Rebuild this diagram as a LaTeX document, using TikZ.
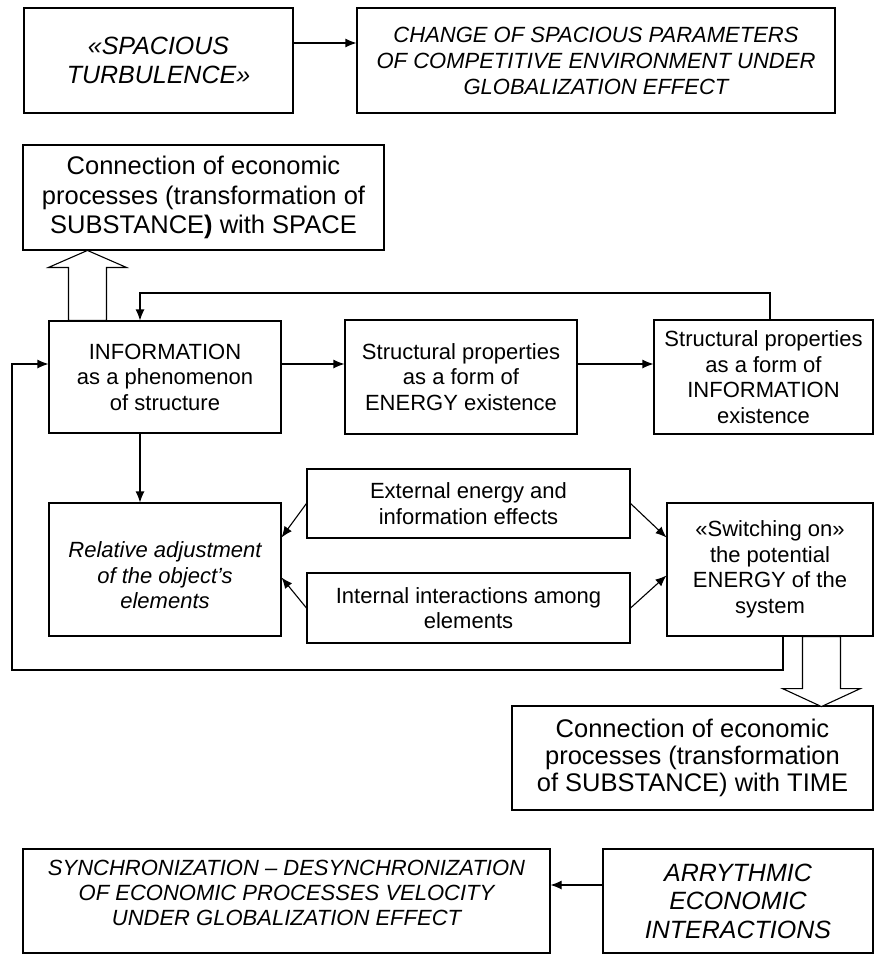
\documentclass[tikz,border=0pt]{standalone}
\usepackage{fontspec}
\setmainfont{Liberation Sans}
\usetikzlibrary{arrows.meta}
\begin{document}
\begin{tikzpicture}[x=1pt,y=-1pt,
  box/.style={draw, line width=1.1pt, align=center, inner sep=0pt, anchor=center},
  txt/.style={font=\fontsize{22}{25.5}\selectfont},
  big/.style={font=\fontsize{25.5}{29.5}\selectfont},
  bigtight/.style={font=\fontsize{25.5}{27}\selectfont},
  ital/.style={font=\fontsize{22}{26}\selectfont\itshape},
  italbig/.style={font=\fontsize{25}{28.5}\selectfont\itshape},
  plain/.style={align=center, inner sep=0pt, anchor=center},
  arr/.style={line width=1.1pt, -{Latex[length=11pt,width=9pt]}},
  hollow/.style={draw, fill=white, line width=1.1pt, line join=miter}]
\useasboundingbox (0,0) rectangle (876,958);

% top row: spatial turbulence
\node[box,italbig,minimum width=269pt,minimum height=105pt] (A) at (158.5,60.5)
  {«SPACIOUS\\TURBULENCE»};
\node[box,ital,minimum width=478pt,minimum height=105pt] (B) at (596,60.5)
  {CHANGE OF SPACIOUS PARAMETERS\\OF COMPETITIVE ENVIRONMENT UNDER\\GLOBALIZATION EFFECT};

% space link
\node[box,big,minimum width=361pt,minimum height=105pt] (C) at (203.5,197.5)
  {Connection of economic\\processes (transformation of\\SUBSTANCE\textbf{)} with SPACE};

% structure / information / energy row
\node[box,txt,minimum width=232pt,minimum height=112pt] (D) at (165,377)
  {INFORMATION\\as a phenomenon\\of structure};
\node[box,txt,minimum width=232pt,minimum height=114pt] (E) at (461,377)
  {Structural properties\\as a form of\\ENERGY existence};
\node[box,txt,minimum width=219pt,minimum height=114pt] (F) at (763.5,377)
  {Structural properties\\as a form of\\INFORMATION\\existence};

% interaction row
\node[box,minimum width=232pt,minimum height=133pt] (R) at (165,569.5) {};
\node[plain,txt] (Rtext) at ([yshift=-6pt]R.center)
  {\itshape Relative adjustment\\\itshape of the object’s\\\itshape elements};
\node[box,txt,minimum width=323pt,minimum height=69pt] (X) at (468.5,503.5)
  {External energy and\\information effects};
\node[box,txt,minimum width=323pt,minimum height=70pt] (I) at (468.5,608)
  {Internal interactions among\\elements};
\node[box,txt,minimum width=206pt,minimum height=133pt] (S) at (770,569.5)
  {«Switching on»\\the potential\\ENERGY of the\\system};

% time link
\node[box,bigtight,minimum width=361pt,minimum height=104pt] (T) at (692.5,758)
  {Connection of economic\\processes (transformation\\of SUBSTANCE) with TIME};

% bottom row: rhythm
\node[box,minimum width=527pt,minimum height=104pt] (Y) at (286.5,901) {};
\node[plain,font=\fontsize{22}{25}\selectfont\itshape] (Ytext) at ([yshift=8pt]Y.center)
  {SYNCHRONIZATION – DESYNCHRONIZATION\\OF ECONOMIC PROCESSES VELOCITY\\UNDER GLOBALIZATION EFFECT};
\node[box,italbig,minimum width=270pt,minimum height=104pt] (Z) at (738,901)
  {ARRYTHMIC\\ECONOMIC\\INTERACTIONS};

% routing points
\coordinate (yab) at (0,43);
\coordinate (fb1) at (770,293);
\coordinate (fb2) at (140,293);
\coordinate (lb1) at (783,670);
\coordinate (lb2) at (12,670);
\coordinate (lb3) at (12,364);
\coordinate (yz) at (0,885);

% straight connectors
\draw[arr] (A.east |- yab) -- (B.west |- yab);
\draw[arr] (D.east |- lb3) -- (E.west |- lb3);
\draw[arr] (E.east |- lb3) -- (F.west |- lb3);
\draw[arr] (D.south -| fb2) -- (R.north -| fb2);
\draw[arr] (Z.west |- yz) -- (Y.east |- yz);

% feedback loops
\draw[arr] (F.north -| fb1) -- (fb1) -- (fb2) -- (D.north -| fb2);
\draw[arr] (S.south -| lb1) -- (lb1) -- (lb2) -- (lb3) -- (D.west |- lb3);

% effects acting on both sides
\draw[arr] (X.west) -- ([yshift=32pt]R.east);
\draw[arr] (X.east) -- ([yshift=32pt]S.west);
\draw[arr] (I.west) -- ([yshift=-8pt]R.east);
\draw[arr] (I.east) -- ([yshift=-6pt]S.west);

% block arrows
\draw[hollow] ([xshift=20pt]D.north west) -- ++(0,-53) -- ++(-20,0) -- ++(39,-17)
  -- ++(39,17) -- ++(-20,0) -- ++(0,53) -- cycle;
\draw[hollow] ([xshift=136pt]S.south west) -- ++(0,52) -- ++(-20,0) -- ++(39,18)
  -- ++(39,-18) -- ++(-20,0) -- ++(0,-52) -- cycle;
\end{tikzpicture}
\end{document}
